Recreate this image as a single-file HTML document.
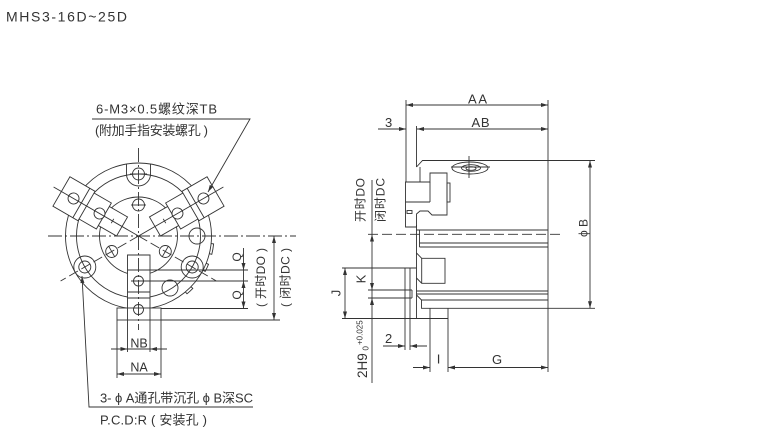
<!DOCTYPE html>
<html><head><meta charset="utf-8">
<style>
html,body{margin:0;padding:0;background:#fff;}
svg{display:block;}
text{font-family:"Liberation Sans","Noto Sans CJK SC",sans-serif;fill:#333;}
</style></head><body>
<svg width="760" height="435" viewBox="0 0 760 435" xmlns="http://www.w3.org/2000/svg">
<rect width="760" height="435" fill="#fff"/>

<text x="6" y="21.7" font-size="14" textLength="121">MHS3-16D~25D</text>

<!-- ============ FRONT VIEW ============ -->
<g fill="none" stroke="#333" stroke-width="0.9">
  <circle cx="138.5" cy="236" r="73"/>
  <circle cx="138.5" cy="236" r="62"/>
  <circle cx="138.5" cy="236" r="39"/>
  <path d="M211.1,243.6 L213.6,243.9 A75.5,75.5 0 0 1 211.8,254.3 L209.3,253.7"/>
  <path d="M206.2,263.3 L208.5,264.3 A75.5,75.5 0 0 1 205.2,271.4 L203,270.3"/>
  <path d="M191,286.7 L192.8,288.4 A75.5,75.5 0 0 1 187,293.8 L185.4,291.9"/>

  <g transform="translate(138.5,236) rotate(-30)" fill="#fff">
    <rect x="19" y="-11" width="23" height="22"/>
    <rect x="40" y="-15" width="21" height="30"/>
    <rect x="60" y="-17" width="29" height="34"/>
    <line x1="30" y1="-2.5" x2="30" y2="2.5"/>
    <line x1="66" y1="-17" x2="66" y2="17"/>
    <circle cx="45" cy="0" r="5.5"/>
    <circle cx="75" cy="0" r="5.5"/>
  </g>
  <g transform="translate(138.5,236) rotate(-150)" fill="#fff">
    <rect x="19" y="-11" width="23" height="22"/>
    <rect x="40" y="-15" width="21" height="30"/>
    <rect x="60" y="-17" width="29" height="34"/>
    <line x1="30" y1="-2.5" x2="30" y2="2.5"/>
    <line x1="66" y1="-17" x2="66" y2="17"/>
    <circle cx="45" cy="0" r="5.5"/>
    <circle cx="75" cy="0" r="5.5"/>
  </g>

  <rect x="127.5" y="255" width="22.5" height="53" fill="#fff" stroke="none"/>
  <rect x="117" y="308" width="44" height="12" fill="#fff"/>
  <path d="M127.5,320 V255 H150 V320"/>
  <line x1="127.5" y1="292" x2="150" y2="292"/>
  <line x1="127.5" y1="298" x2="150" y2="298"/>
  <circle cx="138.5" cy="281" r="5"/>
  <circle cx="138.5" cy="309.5" r="5"/>

  <line x1="48" y1="236" x2="296" y2="236" stroke-dasharray="14 3 2 3"/>
  <line x1="138.5" y1="148" x2="138.5" y2="330" stroke-dasharray="14 3 2 3"/>
  <line x1="138.5" y1="236" x2="60.6" y2="281" stroke-dasharray="10 4"/>
  <line x1="138.5" y1="236" x2="216.4" y2="281" stroke-dasharray="10 4"/>
  <line x1="138.5" y1="236" x2="223.4" y2="187"/>
  <line x1="138.5" y1="236" x2="53.6" y2="187"/>

  <path d="M126.5,164 V174 A12,12 0 0 0 150.5,174 V164"/>
  <circle cx="138.5" cy="174" r="6"/>
  <line x1="130" y1="174" x2="147" y2="174"/>
  <circle cx="84.8" cy="267" r="11"/>
  <circle cx="84.8" cy="267" r="6"/>
  <circle cx="192.2" cy="267" r="11"/>
  <circle cx="192.2" cy="267" r="6"/>
  <circle cx="197" cy="236" r="8"/>
  <circle cx="170" cy="288" r="8"/>
  <circle cx="138.5" cy="205" r="6"/>
  <line x1="131" y1="205" x2="146" y2="205"/>
  <circle cx="111.7" cy="251.5" r="6"/>
  <line x1="108.7" y1="246.3" x2="114.7" y2="256.7"/>
  <circle cx="165.3" cy="251.5" r="6"/>
  <line x1="168.3" y1="246.3" x2="162.3" y2="256.7"/>

  <line x1="127.5" y1="270" x2="248" y2="270"/>
  <line x1="131" y1="281" x2="248" y2="281"/>
  <line x1="161" y1="308.5" x2="248" y2="308.5"/>
  <line x1="161" y1="320" x2="280" y2="320"/>
  <line x1="243.5" y1="248" x2="243.5" y2="308.5"/>
  <line x1="274" y1="236" x2="274" y2="320"/>
  <line x1="127.5" y1="320" x2="127.5" y2="352"/>
  <line x1="150" y1="320" x2="150" y2="352"/>
  <line x1="117" y1="320" x2="117" y2="378"/>
  <line x1="161" y1="320" x2="161" y2="378"/>
  <line x1="111" y1="349" x2="167" y2="349"/>
  <line x1="117" y1="374" x2="161" y2="374"/>

  <path d="M92,119 H250 L208,192"/>
  <path d="M253,407 H89 L82,276"/>
</g>

<!-- ============ SIDE VIEW ============ -->
<g fill="none" stroke="#333" stroke-width="0.9">
  <line x1="406" y1="100" x2="406" y2="182"/>
  <line x1="548" y1="100" x2="548" y2="372"/>
  <line x1="406" y1="105" x2="548" y2="105"/>
  <line x1="378" y1="129" x2="406" y2="129"/>
  <line x1="417" y1="129" x2="548" y2="129"/>
  <line x1="416.5" y1="126" x2="416.5" y2="167"/>
  <path d="M416.5,167 L422.5,160.5 H595"/>
  <line x1="420" y1="167" x2="420" y2="182"/>
  <path d="M405.5,182 H430 V173 H447 V215 H432 L428,211 H420 L416.5,214 V227 H405.5 Z" fill="#fff"/>
  <line x1="405.5" y1="202" x2="430" y2="202"/>
  <line x1="430" y1="182" x2="430" y2="202"/>
  <rect x="447" y="183" width="3" height="19"/>
  <rect x="407" y="210.5" width="5" height="3"/>
  <ellipse cx="470" cy="168" rx="18" ry="6"/>
  <ellipse cx="471" cy="168" rx="9.5" ry="3.3"/>
  <ellipse cx="471" cy="168.5" rx="5" ry="1.8"/>
  <line x1="469" y1="156" x2="469" y2="178"/>
  <line x1="451" y1="167" x2="490" y2="167"/>
  <line x1="416.5" y1="225" x2="416.5" y2="318.5"/>
  <line x1="416.5" y1="230" x2="548" y2="230"/>
  <line x1="368" y1="234.3" x2="560" y2="234.3" stroke-dasharray="10 4"/>
  <line x1="419.5" y1="230" x2="419.5" y2="247"/>
  <line x1="419.5" y1="243" x2="548" y2="243"/>
  <line x1="419.5" y1="247" x2="548" y2="247"/>
  <path d="M416.5,253 L421.7,258.3 H445 V283.3 H421.7 L416.5,278"/>
  <line x1="421.7" y1="258.3" x2="421.7" y2="283.3"/>
  <line x1="416.5" y1="291" x2="548" y2="291"/>
  <line x1="416.5" y1="294" x2="548" y2="294"/>
  <path d="M416.5,295 L421.5,300 H548"/>
  <path d="M421.5,300 V308.3 H595"/>
  <line x1="430" y1="308.3" x2="430" y2="372"/>
  <line x1="448" y1="308.3" x2="448" y2="372"/>
  <line x1="342" y1="318.5" x2="448" y2="318.5"/>
  <line x1="342" y1="268" x2="416.5" y2="268"/>
  <line x1="405" y1="268" x2="405" y2="350"/>
  <line x1="410" y1="268" x2="410" y2="350"/>
  <line x1="368" y1="290" x2="412" y2="290"/>
  <line x1="368" y1="298" x2="412" y2="298"/>
  <line x1="412" y1="290" x2="412" y2="298"/>
  <line x1="345" y1="268" x2="345" y2="318.5"/>
  <line x1="372" y1="180" x2="372" y2="383"/>
  <line x1="383" y1="346" x2="405" y2="346"/>
  <line x1="410" y1="346" x2="427" y2="346"/>
  <line x1="413" y1="367.5" x2="430" y2="367.5"/>
  <line x1="448" y1="367.5" x2="548" y2="367.5"/>
  <line x1="590" y1="160.5" x2="590" y2="308.3"/>
</g>

<path fill="#333" d="
M208,192 L213.2,186.9 L209.8,184.9 Z
M82,276 L84.4,282.9 L80.4,283.1 Z
M243.5,270 L241.5,263 L245.5,263 Z
M243.5,281 L241.5,288 L245.5,288 Z
M243.5,308.5 L241.5,301.5 L245.5,301.5 Z
M274,236 L272,243 L276,243 Z
M274,320 L272,313 L276,313 Z
M127.5,349 L120.5,347 L120.5,351 Z
M150,349 L157,347 L157,351 Z
M117,374 L124,372 L124,376 Z
M161,374 L154,372 L154,376 Z
M406,105 L413,103 L413,107 Z
M548,105 L541,103 L541,107 Z
M406,129 L399,127 L399,131 Z
M417,129 L424,127 L424,131 Z
M548,129 L541,127 L541,131 Z
M590,160.5 L588,167.5 L592,167.5 Z
M590,308.3 L588,301.3 L592,301.3 Z
M372,234.5 L370,241.5 L374,241.5 Z
M372,290 L370,283 L374,283 Z
M372,298 L370,305 L374,305 Z
M345,268 L343,275 L347,275 Z
M345,318.5 L343,311.5 L347,311.5 Z
M405,346 L398,344 L398,348 Z
M410,346 L417,344 L417,348 Z
M430,367.5 L423,365.5 L423,369.5 Z
M448,367.5 L455,365.5 L455,369.5 Z
M548,367.5 L541,365.5 L541,369.5 Z"/>

<text x="96" y="113.5" font-size="13" textLength="121">6-M3×0.5螺纹深TB</text>
<text x="95" y="135" font-size="13" textLength="113">(附加手指安装螺孔 )</text>
<text x="100" y="402.5" font-size="13" textLength="153">3- ϕ A通孔带沉孔 ϕ B深SC</text>
<text x="100" y="424.5" font-size="13" textLength="107">P.C.D:R ( 安装孔 )</text>
<text x="139" y="347.5" font-size="12.5" text-anchor="middle">NB</text>
<text x="139" y="371.5" font-size="12.5" text-anchor="middle">NA</text>
<text transform="translate(241,257) rotate(-90)" font-size="12" text-anchor="middle">Q</text>
<text transform="translate(241,295) rotate(-90)" font-size="12" text-anchor="middle">Q</text>
<text transform="translate(265,277.5) rotate(-90)" font-size="12" text-anchor="middle" textLength="59">( 开时DO )</text>
<text transform="translate(289.5,277.5) rotate(-90)" font-size="12" text-anchor="middle" textLength="59">( 闭时DC )</text>

<text x="477.5" y="103.5" font-size="13" text-anchor="middle" textLength="19">AA</text>
<text x="480.5" y="127" font-size="13" text-anchor="middle" textLength="18">AB</text>
<text x="385" y="127" font-size="13">3</text>
<text x="385" y="343" font-size="13">2</text>
<text x="438.5" y="363.5" font-size="13" text-anchor="middle">I</text>
<text x="497" y="364" font-size="13" text-anchor="middle">G</text>
<text transform="translate(364.5,200) rotate(-90)" font-size="12" text-anchor="middle" textLength="44">开时DO</text>
<text transform="translate(384.5,200) rotate(-90)" font-size="12" text-anchor="middle" textLength="44">闭时DC</text>
<text transform="translate(587.5,228) rotate(-90)" font-size="12" text-anchor="middle">ϕ B</text>
<text transform="translate(340.5,293) rotate(-90)" font-size="13" text-anchor="middle">J</text>
<text transform="translate(365.5,279) rotate(-90)" font-size="13" text-anchor="middle">K</text>
<text transform="translate(367,378) rotate(-90)" font-size="13.5">2H9</text>
<text transform="translate(362.5,345) rotate(-90)" font-size="8">+0.025</text>
<text transform="translate(368.5,350.5) rotate(-90)" font-size="8">0</text>
</svg>
</body></html>
